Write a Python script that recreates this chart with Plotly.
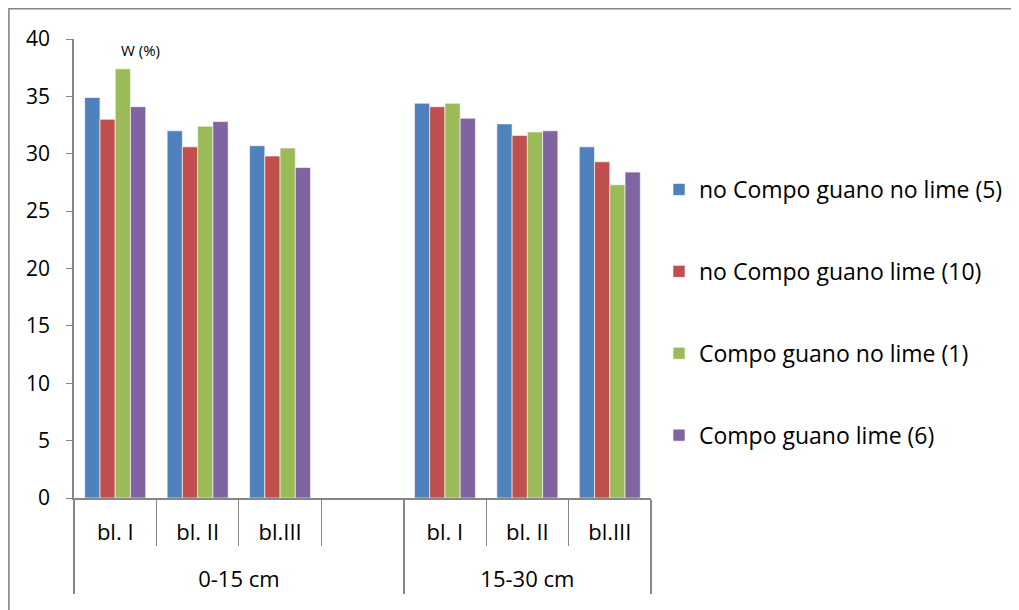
import plotly.graph_objects as go

# categories (depth, block) - empty slot between the two depths
depth = ["<br>0-15 cm"] * 4 + ["<br>15-30 cm"] * 3
block = ["bl. I", "bl. II", "bl.III", " ", "bl. I", "bl. II", "bl.III"]

series_names = [
    "no Compo guano no lime (5)",
    "no Compo guano lime (10)",
    "Compo guano no lime (1)",
    "Compo guano lime (6)",
]
no_cg_no_lime = [34.9, 32.0, 30.7, None, 34.4, 32.6, 30.6]
no_cg_lime = [33.0, 30.6, 29.8, None, 34.1, 31.6, 29.3]
cg_no_lime = [37.4, 32.4, 30.5, None, 34.4, 31.9, 27.3]
cg_lime = [34.1, 32.8, 28.8, None, 33.1, 32.0, 28.4]
colors = ["#4F81BD", "#C0504D", "#9BBB59", "#8064A2"]

FONT = "Open Sans"
GREY = "#868686"
W, H = 1011, 602

fig = go.Figure()
for name, vals, col in zip(series_names, [no_cg_no_lime, no_cg_lime, cg_no_lime, cg_lime], colors):
    fig.add_trace(go.Bar(
        name=name,
        x=[depth, block],
        y=vals,
        marker=dict(color=col, line=dict(color="rgba(255,255,255,0.6)", width=1)),
        legendgroup=name,
    ))

# plot area in figure pixels
x0, x1 = 66, 644
y0, y1 = 31, 490
def px_x(p):
    return (p - x0) / (x1 - x0)
def px_y(p):
    return (y1 - p) / (y1 - y0)

# chart frame (Excel chart area border)
fig.add_shape(type="rect", xref="paper", yref="paper",
              x0=px_x(0.8), x1=px_x(W + 5), y0=px_y(H + 5), y1=px_y(0.8),
              line=dict(color=GREY, width=1.6), layer="below")

fig.add_annotation(text="W (%)", xref="paper", yref="paper",
                   x=px_x(133), y=px_y(42), xanchor="center", yanchor="middle",
                   showarrow=False,
                   font=dict(family=FONT, size=15, color="black"))

fig.update_layout(
    width=W,
    height=H,
    margin=dict(l=x0, r=W - x1, t=y0, b=H - y1),
    paper_bgcolor="white",
    plot_bgcolor="white",
    barmode="group",
    bargap=0.26,
    bargroupgap=0,
    font=dict(family=FONT, size=22, color="black"),
    showlegend=True,
    legend=dict(
        x=px_x(651), y=px_y(160), xanchor="left", yanchor="top",
        tracegroupgap=49,
        font=dict(family=FONT, size=23),
        itemwidth=30,
    ),
    xaxis=dict(
        type="multicategory",
        showline=True, linecolor=GREY, linewidth=1.5,
        ticks="outside", tickson="boundaries", ticklen=46, tickcolor=GREY,
        showdividers=True, dividercolor=GREY, dividerwidth=1.5,
        showgrid=False,
        ticklabelstandoff=14,
        tickfont=dict(family=FONT, size=22),
    ),
    yaxis=dict(
        range=[0, 40], dtick=5,
        showline=True, linecolor=GREY, linewidth=1.5,
        ticks="outside", ticklen=6, tickcolor=GREY,
        showgrid=False, zeroline=False,
        ticklabelstandoff=12,
        tickfont=dict(family=FONT, size=21),
    ),
)

fig.write_html("out.html")
